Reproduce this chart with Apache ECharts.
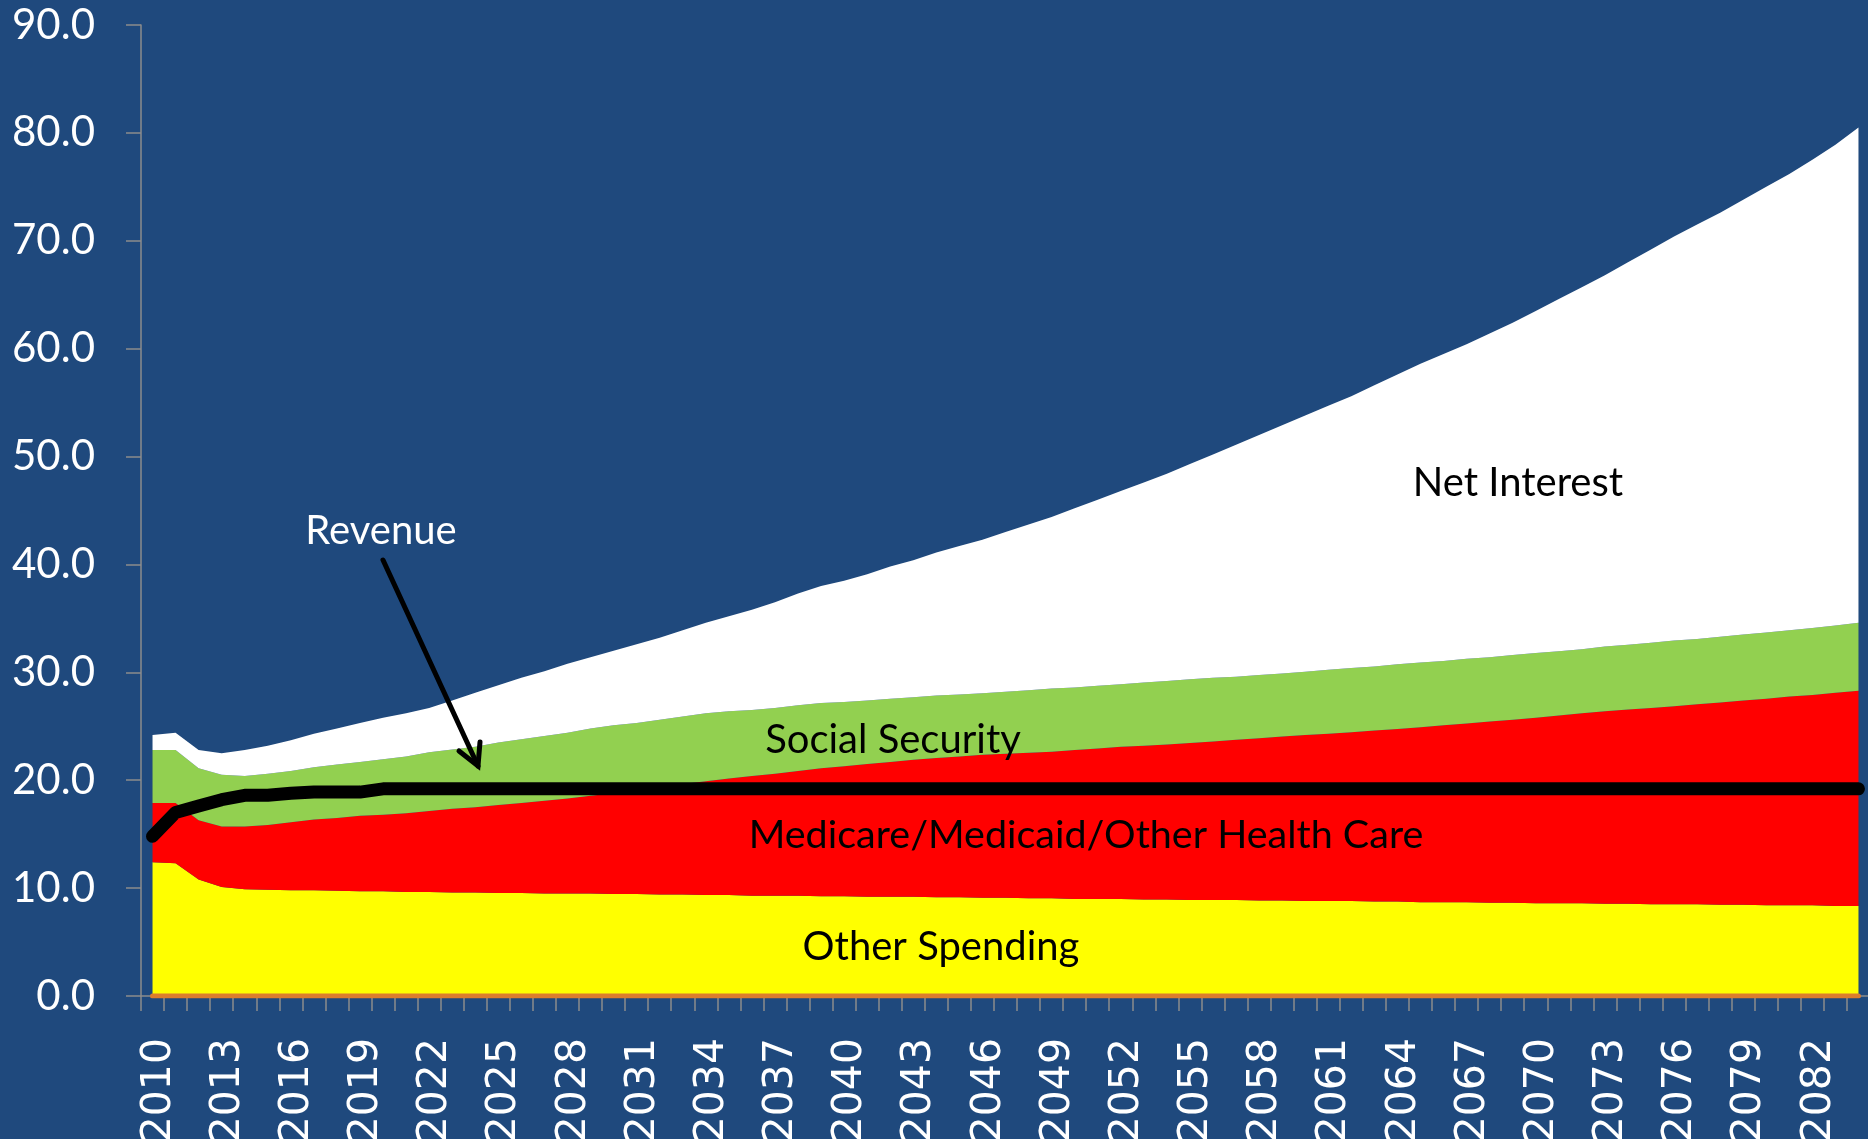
<!DOCTYPE html>
<html><head><meta charset="utf-8">
<script src="https://cdn.jsdelivr.net/npm/echarts@6/dist/echarts.min.js"></script>
<style>html,body{margin:0;padding:0;background:#1F497D;overflow:hidden}#c{width:1868px;height:1139px}</style>
</head><body><div id="c"></div>
<script>
const years = ['2010','2011','2012','2013','2014','2015','2016','2017','2018','2019',
'2020','2021','2022','2023','2024','2025','2026','2027','2028','2029',
'2030','2031','2032','2033','2034','2035','2036','2037','2038','2039',
'2040','2041','2042','2043','2044','2045','2046','2047','2048','2049',
'2050','2051','2052','2053','2054','2055','2056','2057','2058','2059',
'2060','2061','2062','2063','2064','2065','2066','2067','2068','2069',
'2070','2071','2072','2073','2074','2075','2076','2077','2078','2079',
'2080','2081','2082','2083','2084'];

const otherSpending = [12.4,12.3,10.8,10.1,9.9,9.85,9.8,9.8,9.75,9.7,
9.7,9.65,9.65,9.6,9.6,9.55,9.55,9.5,9.5,9.5,
9.45,9.45,9.4,9.4,9.35,9.35,9.3,9.3,9.3,9.25,
9.25,9.2,9.2,9.2,9.15,9.15,9.1,9.1,9.05,9.05,
9.0,9.0,9.0,8.95,8.95,8.9,8.9,8.9,8.85,8.85,
8.8,8.8,8.8,8.75,8.75,8.7,8.7,8.7,8.65,8.65,
8.6,8.6,8.6,8.55,8.55,8.5,8.5,8.5,8.45,8.45,
8.4,8.4,8.4,8.35,8.35];

const healthCare = [5.5,5.6,5.5,5.6,5.8,6.0,6.3,6.55,6.75,7.0,
7.1,7.3,7.5,7.75,7.9,8.15,8.35,8.6,8.8,9.05,
9.35,9.65,10.0,10.25,10.55,10.8,11.1,11.3,11.55,11.85,
12.05,12.3,12.5,12.7,12.9,13.05,13.25,13.35,13.5,13.6,
13.8,13.95,14.1,14.25,14.35,14.55,14.7,14.85,15.05,15.2,
15.4,15.5,15.65,15.85,16.0,16.2,16.4,16.55,16.8,16.95,
17.2,17.4,17.6,17.85,18.0,18.2,18.35,18.55,18.75,18.95,
19.15,19.35,19.5,19.75,19.95];

const socialSecurity = [4.9,4.9,4.8,4.8,4.7,4.75,4.75,4.85,4.95,5.0,
5.15,5.25,5.45,5.5,5.6,5.8,5.9,6.0,6.1,6.25,
6.3,6.2,6.2,6.25,6.3,6.25,6.1,6.1,6.1,6.05,
5.95,5.9,5.85,5.8,5.8,5.75,5.7,5.75,5.8,5.85,
5.8,5.8,5.8,5.85,5.9,5.9,5.9,5.85,5.85,5.85,
5.85,5.95,5.95,5.95,6.0,6.0,5.95,6.0,5.95,6.0,
6.0,5.95,5.95,6.0,6.0,6.05,6.1,6.05,6.1,6.1,
6.15,6.15,6.2,6.25,6.3];

const netInterest = [1.4,1.6,1.7,2.0,2.4,2.6,2.85,3.1,3.35,3.6,
3.85,4.0,4.1,4.55,5.0,5.3,5.7,6.0,6.4,6.6,
6.9,7.3,7.6,8.0,8.4,8.8,9.3,9.8,10.35,10.85,
11.25,11.7,12.25,12.7,13.25,13.75,14.25,14.8,15.35,15.9,
16.6,17.25,17.9,18.55,19.2,19.95,20.7,21.5,22.25,23.0,
23.75,24.45,25.2,26.05,26.85,27.7,28.45,29.15,30.0,30.8,
31.7,32.65,33.55,34.4,35.45,36.45,37.45,38.4,39.3,40.3,
41.3,42.3,43.4,44.55,45.9];

const revenue = [14.8,17.0,17.6,18.2,18.6,18.6,18.8,18.9,18.9,18.9,
19.2,19.2,19.2,19.2,19.2,19.2,19.2,19.2,19.2,19.2,
19.2,19.2,19.2,19.2,19.2,19.2,19.2,19.2,19.2,19.2,
19.2,19.2,19.2,19.2,19.2,19.2,19.2,19.2,19.2,19.2,
19.2,19.2,19.2,19.2,19.2,19.2,19.2,19.2,19.2,19.2,
19.2,19.2,19.2,19.2,19.2,19.2,19.2,19.2,19.2,19.2,
19.2,19.2,19.2,19.2,19.2,19.2,19.2,19.2,19.2,19.2,
19.2,19.2,19.2,19.2,19.2];

const zeroLine = [0,0,0,0,0,0,0,0,0,0,
0,0,0,0,0,0,0,0,0,0,
0,0,0,0,0,0,0,0,0,0,
0,0,0,0,0,0,0,0,0,0,
0,0,0,0,0,0,0,0,0,0,
0,0,0,0,0,0,0,0,0,0,
0,0,0,0,0,0,0,0,0,0,
0,0,0,0,0];

const yTicks = {min: 0, max: 90, step: 10};

const chart = echarts.init(document.getElementById('c'), null, {renderer: 'canvas'});
const labelFont = 'Lato';
function area(name, data, color) {
  return {
    name: name, type: 'line', stack: 'total', data: data,
    symbol: 'none', showSymbol: false,
    lineStyle: {width: 0, color: color},
    itemStyle: {color: color},
    areaStyle: {color: color, opacity: 1},
    z: 2
  };
}
chart.setOption({
  animation: false,
  backgroundColor: '#1F497D',
  grid: {left: 141, right: -2, top: 25, bottom: 143, containLabel: false, outerBoundsMode: 'none'},
  xAxis: {
    type: 'category', data: years, boundaryGap: true,
    axisLine: {show: true, lineStyle: {color: '#8C8C8C', width: 1.5}},
    axisTick: {show: true, interval: 0, length: 15, lineStyle: {color: '#8C8C8C', width: 1.5}},
    axisLabel: {interval: 2, rotate: 90, color: '#FFFFFF', margin: 42, hideOverlap: false,
      formatter: v => '{y|' + v + '}',
      rich: {y: {fontFamily: '"DejaVu Sans", Verdana, sans-serif', fontWeight: 'normal', fontSize: 41, color: '#FFFFFF',
        padding: [13, 0, 0, 0]}}}
  },
  yAxis: {
    type: 'value', min: yTicks.min, max: yTicks.max, interval: yTicks.step,
    axisLine: {show: true, lineStyle: {color: '#8C8C8C', width: 1.5}},
    axisTick: {show: true, length: 15, lineStyle: {color: '#8C8C8C', width: 1.5}},
    splitLine: {show: false},
    axisLabel: {color: '#FFFFFF', fontFamily: labelFont, fontSize: 42, margin: 46,
      formatter: v => v.toFixed(1)}
  },
  series: [
    area('Other Spending', otherSpending, '#FFFF00'),
    area('Medicare/Medicaid/Other Health Care', healthCare, '#FF0000'),
    area('Social Security', socialSecurity, '#92D050'),
    area('Net Interest', netInterest, '#FFFFFF'),
    {name: 'Zero', type: 'line', data: zeroLine, symbol: 'none',
     lineStyle: {color: '#DC7D2D', width: 5, cap: 'round'}, z: 4},
    {name: 'Revenue', type: 'line', data: revenue, symbol: 'none',
     lineStyle: {color: '#000000', width: 13, cap: 'round', join: 'round'}, z: 5}
  ],
  graphic: [
    {type: 'text', x: 381, y: 531, z: 10,
     style: {text: 'Revenue', font: '40px Lato', fill: '#FFFFFF', textAlign: 'center', textVerticalAlign: 'middle'}},
    {type: 'text', x: 1518, y: 483, z: 10,
     style: {text: 'Net Interest', font: '40px Lato', fill: '#000000', textAlign: 'center', textVerticalAlign: 'middle'}},
    {type: 'text', x: 893, y: 740, z: 10,
     style: {text: 'Social Security', font: '40px Lato', fill: '#000000', textAlign: 'center', textVerticalAlign: 'middle'}},
    {type: 'text', x: 1086, y: 835, z: 10,
     style: {text: 'Medicare/Medicaid/Other Health Care', font: '39.5px Lato', fill: '#000000', textAlign: 'center', textVerticalAlign: 'middle'}},
    {type: 'text', x: 941, y: 947, z: 10,
     style: {text: 'Other Spending', font: '40px Lato', fill: '#000000', textAlign: 'center', textVerticalAlign: 'middle'}},
    {type: 'polyline', z: 10, shape: {points: [[383, 560], [478, 766]]},
     style: {stroke: '#000000', lineWidth: 5, lineCap: 'round', fill: null}},
    {type: 'polyline', z: 10, shape: {points: [[459, 751], [478, 766], [480, 742]]},
     style: {stroke: '#000000', lineWidth: 5, lineCap: 'round', lineJoin: 'miter', fill: null}}
  ]
});
</script>
</body></html>
